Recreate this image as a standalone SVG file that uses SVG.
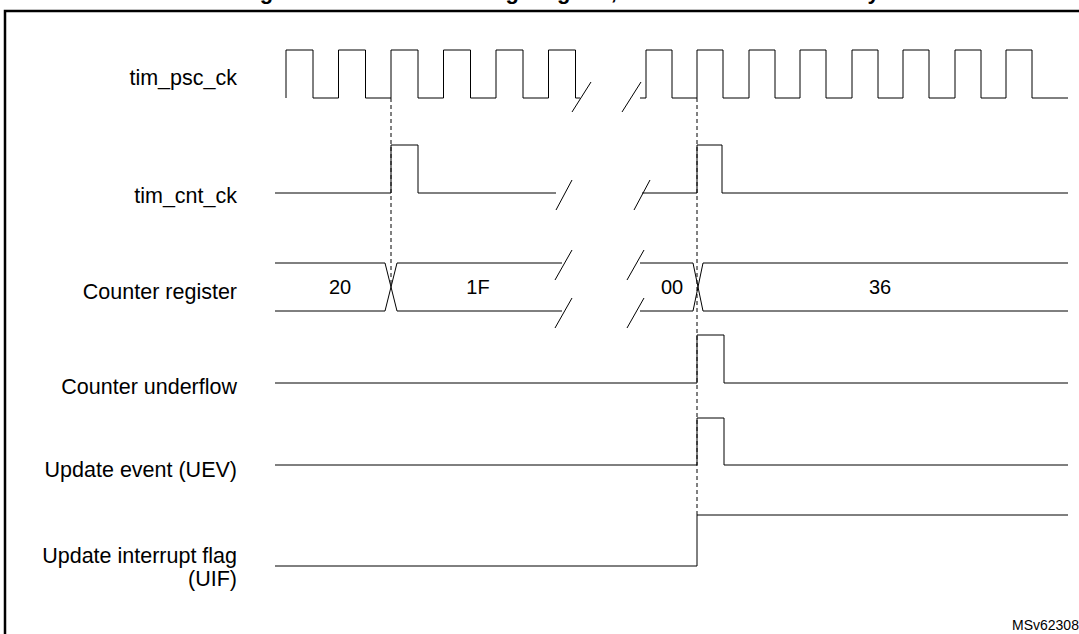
<svg xmlns="http://www.w3.org/2000/svg" width="1079" height="634" viewBox="0 0 1079 634">
<style>
.w{fill:none;stroke:#000;stroke-width:1}
.d{fill:none;stroke:#000;stroke-width:1;stroke-dasharray:4,3}
.l{font-family:"Liberation Sans",Arial,sans-serif;font-size:21.5px;fill:#000;text-anchor:end}
.v{font-family:"Liberation Sans",Arial,sans-serif;font-size:20px;fill:#000;text-anchor:middle}
</style>
<rect width="1079" height="634" fill="#fff"/>
<text x="560" y="-1" font-family="Liberation Sans,Arial,sans-serif" font-size="22" font-weight="bold" text-anchor="middle">Figure 100. Counter timing diagram, internal clock divided by</text>
<path d="M5,640 V11 H1085" fill="none" stroke="#000" stroke-width="2.5"/>
<g id="labels">
<text class="l" x="237" y="85">tim_psc_ck</text>
<text class="l" x="237" y="203">tim_cnt_ck</text>
<text class="l" x="237" y="299">Counter register</text>
<text class="l" x="237" y="394">Counter underflow</text>
<text class="l" x="237" y="477">Update event (UEV)</text>
<text class="l" x="237" y="563">Update interrupt flag</text>
<text class="l" x="237" y="586">(UIF)</text>
<text x="1012" y="630" font-family="Liberation Sans,Arial,sans-serif" font-size="14">MSv62308V1</text>
</g>
<g id="connectors">
<path class="w" d="M286,98 V50 H313 V98 H338.5 V50 H365.5 V98 H391 V50 H418 V98 H443.5 V50 H470.5 V98 H496 V50 H523 V98 H548.5 V50 H575.5 V98 H580"/>
<path class="w" d="M572,112 L591,82 M622,112 L641,82"/>
<path class="w" d="M640,98 H646 V50 H672 V98 H697 V50 H723 V98 H749 V50 H775 V98 H800 V50 H826 V98 H852 V50 H878 V98 H903 V50 H929 V98 H955 V50 H981 V98 H1006 V50 H1032 V98 H1068"/>
<path class="w" d="M275,193 H391 V145 H418 V193 H556 M556,210 L572,180 M634,210 L650,180 M642,193 H697 V145 H722 V193 H1068"/>
<path class="w" d="M275,263 H385 L397,311 H562 M275,311 H385 L397,263 H562 M555,280 L572,250 M555,328 L572,298 M627,280 L644,250 M627,328 L644,298 M640,263 H693 L703,311 H1068 M640,311 H693 L703,263 H1068"/>
<path class="w" d="M275,383 H697 V335 H724 V383 H1068"/>
<path class="w" d="M275,465 H697 V418 H724 V465 H1068"/>
<path class="w" d="M275,566 H697 V515 H1068"/>
<path class="d" d="M391,98 V287 M697,98 V515"/>
</g>
<g id="values">
<text class="v" x="340" y="294">20</text>
<text class="v" x="478" y="294">1F</text>
<text class="v" x="672" y="294">00</text>
<text class="v" x="880" y="294">36</text>
</g>
</svg>
